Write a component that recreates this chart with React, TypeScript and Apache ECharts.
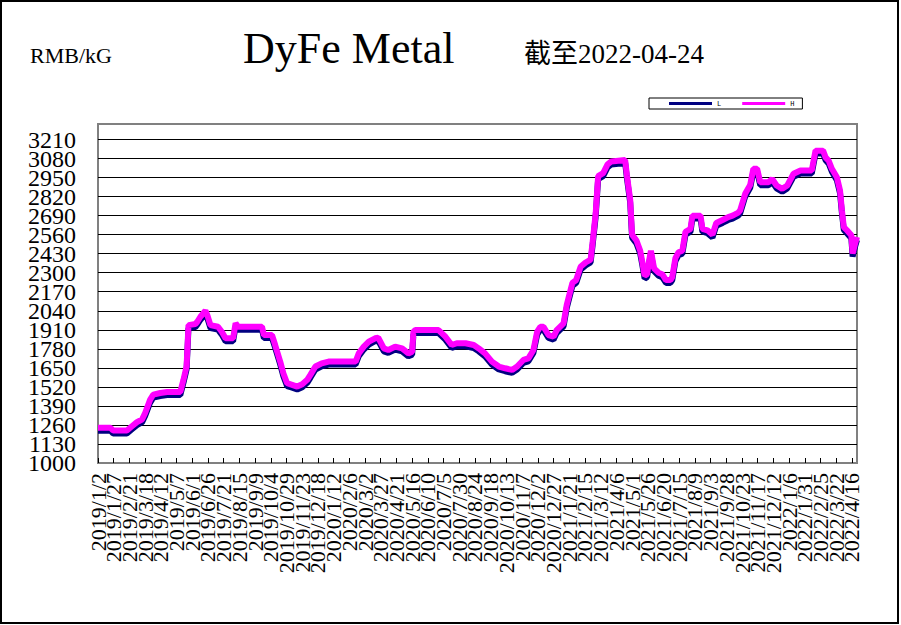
import React, { useEffect, useRef } from 'react';
import * as echarts from 'echarts';

// Axis range (calendar days shown on the category axis)
const FIRST_DAY = [2019, 1, 2];
const LAST_DAY = [2022, 4, 24];
const LABEL_EVERY = 25;

// Y axis ticks
const Y_MIN = 1000;
const Y_TOP_TICK = 3210;
const Y_STEP = 130;
const Y_FRAME_MAX = 3316;

// Titles
const UNIT_TEXT = 'RMB/kG';
const TITLE_TEXT = 'DyFe Metal';
const DATE_TEXT = '截至2022-04-24';
const SERIES_NAMES = ['L', 'H'];

// Points where the price line changes
const POINT_DATES = [
  '2019/1/2', '2019/1/22', '2019/1/26', '2019/2/17', '2019/2/25', '2019/3/5', '2019/3/13', '2019/3/18', '2019/3/26', '2019/3/31',
  '2019/4/11', '2019/4/22', '2019/5/13', '2019/5/18', '2019/5/23', '2019/5/26', '2019/6/6', '2019/6/9', '2019/6/14', '2019/6/22',
  '2019/6/25', '2019/6/30', '2019/7/12', '2019/7/18', '2019/7/24', '2019/8/5', '2019/8/9', '2019/8/13', '2019/9/20', '2019/9/23',
  '2019/10/6', '2019/10/11', '2019/10/19', '2019/10/24', '2019/10/30', '2019/11/7', '2019/11/15', '2019/11/23', '2019/12/1', '2019/12/6',
  '2019/12/14', '2019/12/24', '2020/1/4', '2020/2/16', '2020/2/21', '2020/2/29', '2020/3/8', '2020/3/18', '2020/3/23', '2020/4/1',
  '2020/4/8', '2020/4/19', '2020/4/30', '2020/5/10', '2020/5/16', '2020/5/18', '2020/5/21', '2020/6/27', '2020/7/8', '2020/7/18',
  '2020/7/26', '2020/8/9', '2020/8/22', '2020/8/30', '2020/9/9', '2020/9/20', '2020/10/1', '2020/10/11', '2020/10/22', '2020/10/30',
  '2020/11/9', '2020/11/17', '2020/11/25', '2020/12/1', '2020/12/6', '2020/12/11', '2020/12/19', '2020/12/27', '2021/1/1', '2021/1/12',
  '2021/1/17', '2021/1/23', '2021/1/26', '2021/2/1', '2021/2/8', '2021/2/16', '2021/2/24', '2021/2/27', '2021/3/4', '2021/3/8',
  '2021/3/16', '2021/3/23', '2021/3/29', '2021/4/20', '2021/4/23', '2021/4/28', '2021/5/1', '2021/5/8', '2021/5/14', '2021/5/17',
  '2021/5/21', '2021/5/25', '2021/5/28', '2021/5/31', '2021/6/5', '2021/6/12', '2021/6/18', '2021/6/24', '2021/7/1', '2021/7/4',
  '2021/7/9', '2021/7/14', '2021/7/20', '2021/7/25', '2021/8/2', '2021/8/5', '2021/8/18', '2021/8/21', '2021/8/29', '2021/9/6',
  '2021/9/12', '2021/9/22', '2021/10/1', '2021/10/8', '2021/10/17', '2021/10/20', '2021/10/28', '2021/11/5', '2021/11/10', '2021/11/16',
  '2021/11/21', '2021/12/4', '2021/12/10', '2021/12/17', '2021/12/26', '2022/1/3', '2022/1/13', '2022/1/24', '2022/2/11', '2022/2/17',
  '2022/3/1', '2022/3/5', '2022/3/10', '2022/3/15', '2022/3/23', '2022/3/28', '2022/3/31', '2022/4/3', '2022/4/8', '2022/4/15',
  '2022/4/17', '2022/4/21', '2022/4/24',
];

const H_VALUES = [
  1240, 1240, 1222, 1222, 1251, 1279, 1297, 1342, 1433, 1467,
  1478, 1485, 1485, 1568, 1660, 1942, 1949, 1965, 1999, 2040,
  2010, 1942, 1931, 1897, 1852, 1852, 1954, 1931, 1931, 1874,
  1874, 1806, 1693, 1613, 1545, 1534, 1522, 1538, 1568, 1602,
  1659, 1681, 1693, 1693, 1749, 1795, 1829, 1852, 1856, 1783,
  1772, 1795, 1783, 1749, 1760, 1897, 1908, 1908, 1863, 1806,
  1818, 1818, 1806, 1783, 1749, 1693, 1659, 1647, 1636, 1659,
  1704, 1715, 1772, 1897, 1931, 1931, 1874, 1863, 1908, 1954,
  2079, 2180, 2230, 2250, 2340, 2370, 2390, 2500, 2700, 2960,
  2980, 3040, 3060, 3070, 2960, 2800, 2560, 2520, 2450, 2380,
  2280, 2290, 2380, 2450, 2330, 2300, 2290, 2250, 2250, 2270,
  2400, 2440, 2450, 2580, 2600, 2690, 2690, 2600, 2590, 2560,
  2640, 2660, 2680, 2690, 2710, 2726, 2839, 2900, 3010, 3010,
  2918, 2918, 2941, 2896, 2873, 2896, 2976, 2998, 2998, 3134,
  3134, 3088, 3065, 3010, 2952, 2862, 2726, 2612, 2590, 2556,
  2431, 2499, 2544,
];

const L_VALUES = [
  1220, 1220, 1202, 1202, 1231, 1259, 1277, 1322, 1413, 1447,
  1458, 1465, 1465, 1548, 1640, 1922, 1929, 1945, 1979, 2020,
  1990, 1922, 1911, 1877, 1832, 1832, 1934, 1911, 1911, 1854,
  1854, 1786, 1673, 1593, 1525, 1514, 1502, 1518, 1548, 1582,
  1639, 1661, 1673, 1673, 1729, 1775, 1809, 1832, 1836, 1763,
  1752, 1775, 1763, 1729, 1740, 1877, 1888, 1888, 1843, 1786,
  1798, 1798, 1786, 1763, 1729, 1673, 1639, 1627, 1616, 1639,
  1684, 1695, 1752, 1877, 1911, 1911, 1854, 1843, 1888, 1934,
  2059, 2160, 2210, 2230, 2320, 2350, 2370, 2480, 2680, 2940,
  2960, 3020, 3040, 3050, 2940, 2780, 2540, 2500, 2430, 2360,
  2260, 2270, 2360, 2430, 2310, 2280, 2270, 2230, 2230, 2250,
  2380, 2420, 2430, 2560, 2580, 2670, 2670, 2580, 2570, 2540,
  2620, 2640, 2660, 2670, 2690, 2706, 2819, 2880, 2990, 2990,
  2898, 2898, 2921, 2876, 2853, 2876, 2956, 2978, 2978, 3114,
  3114, 3068, 3045, 2990, 2932, 2842, 2706, 2592, 2570, 2536,
  2411, 2479, 2524,
];

function buildDays(): string[] {
  const out: string[] = [];
  let t = Date.UTC(FIRST_DAY[0], FIRST_DAY[1] - 1, FIRST_DAY[2]);
  const end = Date.UTC(LAST_DAY[0], LAST_DAY[1] - 1, LAST_DAY[2]);
  while (t <= end) {
    const d = new Date(t);
    out.push(`${d.getUTCFullYear()}/${d.getUTCMonth() + 1}/${d.getUTCDate()}`);
    t += 86400000;
  }
  return out;
}

const SERIF = "'Liberation Serif', 'Times New Roman', serif";
const SERIF_CJK = "'Liberation Serif', 'Noto Sans CJK SC', serif";

const X_LABEL_STYLE = {
  rotate: 90,
  margin: 10,
  fontSize: 22,
  fontFamily: SERIF,
  color: '#000000',
  hideOverlap: false,
};

const Y_LABEL_STYLE = {
  margin: 22,
  fontSize: 24,
  fontFamily: SERIF,
  color: '#000000',
  hideOverlap: false,
};

export default function App() {
  const ref = useRef<HTMLDivElement>(null);

  useEffect(() => {
    if (!ref.current) return;
    const chart = echarts.init(ref.current, null, { renderer: 'svg' });
    const days = buildDays();
    const lData = POINT_DATES.map((d, i) => [d, L_VALUES[i]]);
    const hData = POINT_DATES.map((d, i) => [d, H_VALUES[i]]);
    const pair = 2 * LABEL_EVERY;
    const yStepIndex = (v: number) => Math.round((v - Y_MIN) / Y_STEP);

    const baseX = {
      type: 'category',
      data: days,
      boundaryGap: false,
      position: 'bottom',
      axisLine: { show: false },
      splitLine: { show: false },
    };
    const baseY = {
      type: 'value',
      min: Y_MIN,
      max: Y_FRAME_MAX,
      interval: Y_STEP,
      position: 'left',
      axisLine: { show: false },
      axisTick: { show: false },
    };

    chart.setOption({
      animation: false,
      backgroundColor: '#ffffff',
      graphic: [
        {
          type: 'rect',
          silent: true,
          shape: { x: 1, y: 1, width: 897, height: 622 },
          style: { fill: 'none', stroke: '#000000', lineWidth: 2 },
        },
        {
          type: 'text',
          x: 30,
          y: 55,
          style: {
            text: UNIT_TEXT,
            font: `22px ${SERIF}`,
            fill: '#000000',
            align: 'left',
            verticalAlign: 'middle',
          },
        },
        {
          type: 'text',
          x: 243,
          y: 48,
          style: {
            text: TITLE_TEXT,
            font: `44px ${SERIF}`,
            fill: '#000000',
            align: 'left',
            verticalAlign: 'middle',
          },
        },
        {
          type: 'text',
          x: 524,
          y: 54,
          style: {
            text: DATE_TEXT,
            font: `27px ${SERIF_CJK}`,
            fill: '#000000',
            align: 'left',
            verticalAlign: 'middle',
          },
        },
      ],
      legend: {
        data: SERIES_NAMES,
        left: 649,
        top: 98,
        orient: 'horizontal',
        icon: 'rect',
        itemWidth: 43,
        itemHeight: 3,
        itemGap: 21,
        padding: [2, 8, 2, 20],
        borderColor: '#000000',
        borderWidth: 1,
        backgroundColor: '#ffffff',
        textStyle: { fontSize: 7, fontFamily: "'Liberation Mono', monospace", color: '#000000' },
      },
      grid: {
        left: 98,
        right: 44,
        top: 124,
        bottom: 162,
        show: true,
        borderColor: '#808080',
        borderWidth: 2,
        backgroundColor: 'transparent',
        containLabel: false,
        outerBoundsMode: 'none',
      },
      xAxis: [
        {
          ...baseX,
          axisTick: {
            show: true,
            interval: LABEL_EVERY - 1,
            inside: true,
            length: 5,
            lineStyle: { color: '#000000', width: 1 },
          },
          axisLabel: {
            ...X_LABEL_STYLE,
            interval: (i: number) => i % pair === 0,
          },
        },
        {
          ...baseX,
          axisTick: { show: false },
          axisLabel: {
            ...X_LABEL_STYLE,
            interval: (i: number) => i % pair === LABEL_EVERY,
          },
        },
      ],
      yAxis: [
        {
          ...baseY,
          axisLabel: {
            ...Y_LABEL_STYLE,
            showMinLabel: true,
            formatter: (v: number) =>
              v <= Y_TOP_TICK && yStepIndex(v) % 2 === 0 ? String(v) : '',
          },
          splitLine: {
            show: true,
            showMinLine: false,
            showMaxLine: false,
            lineStyle: { color: '#000000', width: 1 },
          },
        },
        {
          ...baseY,
          axisLabel: {
            ...Y_LABEL_STYLE,
            formatter: (v: number) =>
              v <= Y_TOP_TICK && yStepIndex(v) % 2 === 1 ? String(v) : '',
          },
          splitLine: { show: false },
        },
      ],
      series: [
        {
          name: SERIES_NAMES[0],
          type: 'line',
          xAxisIndex: 0,
          yAxisIndex: 0,
          data: lData,
          showSymbol: false,
          symbol: 'none',
          color: '#000080',
          lineStyle: { color: '#000080', width: 6 },
          itemStyle: { color: '#000080' },
          z: 2,
        },
        {
          name: SERIES_NAMES[1],
          type: 'line',
          xAxisIndex: 0,
          yAxisIndex: 0,
          data: hData,
          showSymbol: false,
          symbol: 'none',
          color: '#FF00FF',
          lineStyle: { color: '#FF00FF', width: 6 },
          itemStyle: { color: '#FF00FF' },
          z: 3,
        },
      ],
    });

    return () => {
      chart.dispose();
    };
  }, []);

  return (
    <div
      ref={ref}
      style={{ position: 'fixed', left: 0, top: 0, width: 901, height: 625, background: '#ffffff' }}
    />
  );
}
